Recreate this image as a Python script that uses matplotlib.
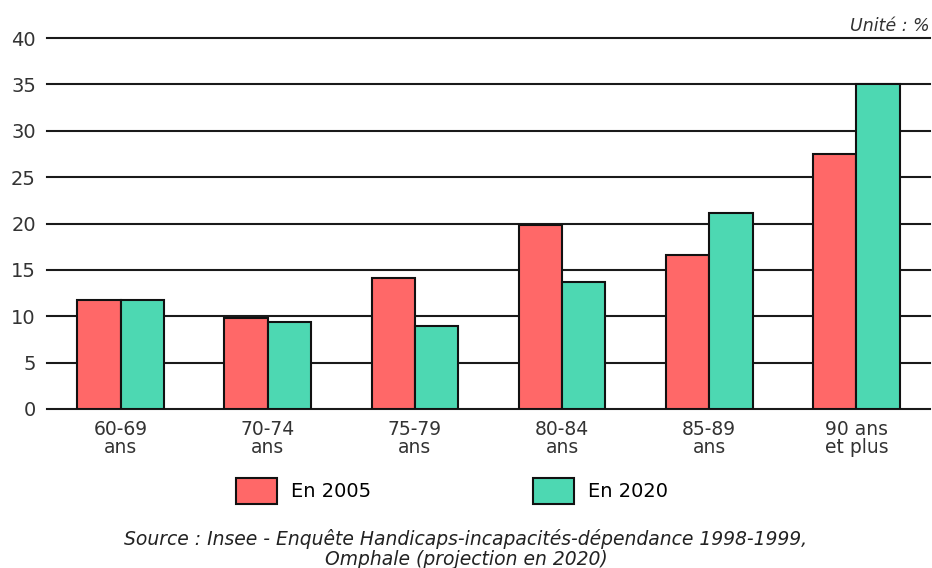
import matplotlib
matplotlib.use("Agg")
import matplotlib.pyplot as plt
import numpy as np

categories = ["60-69\nans", "70-74\nans", "75-79\nans", "80-84\nans", "85-89\nans", "90 ans\net plus"]
series_names = ["En 2005", "En 2020"]
values_2005 = [11.8, 9.8, 14.1, 19.8, 16.6, 27.5]
values_2020 = [11.8, 9.4, 8.9, 13.7, 21.1, 35.0]
yticks = [0, 5, 10, 15, 20, 25, 30, 35, 40]
colors = ["#FF6868", "#4DD8B2"]

plt.rcParams['font.family'] = ['DejaVu Sans']

fig = plt.figure(figsize=(9.32, 5.68), dpi=100)
ax = fig.add_axes([47/932, 1-409/568, 883/932, 371/568])

x = np.arange(len(categories))
w = 0.295
ax.bar(x - w/2, values_2005, w, color=colors[0], edgecolor="#111111", linewidth=1.5, zorder=3, label=series_names[0])
ax.bar(x + w/2, values_2020, w, color=colors[1], edgecolor="#111111", linewidth=1.5, zorder=3, label=series_names[1])

ax.set_xlim(-0.5, len(categories) - 0.5)
ax.set_ylim(0, 40)
ax.set_yticks(yticks)
ax.set_yticklabels([str(t) for t in yticks], fontsize=14, color="#333333")
ax.yaxis.grid(True, color="#1a1a1a", linewidth=1.5, zorder=0)
for gl in ax.get_ygridlines():
    gl.set_clip_on(False)
ax.set_axisbelow(True)
for s in ax.spines.values():
    s.set_visible(False)
ax.tick_params(axis='y', length=0, pad=8)
ax.tick_params(axis='x', length=0, pad=8)
ax.set_xticks(x)
ax.set_xticklabels(categories, fontsize=13.5, color="#333333", linespacing=0.95)

fig.text(930/932, 1-26/568, "Unité : %", ha="right", va="center", fontsize=12.5, style="italic", color="#333333")

fig.legend(loc="center", bbox_to_anchor=(452/932, 1-491/568), ncol=2, frameon=False,
           fontsize=14, handlelength=2.1, handleheight=1.75, columnspacing=8.3, handletextpad=0.75,
           borderpad=0, borderaxespad=0)

fig.text(466/932, 1-549/568, "Source : Insee - Enquête Handicaps-incapacités-dépendance 1998-1999,\nOmphale (projection en 2020)",
         ha="center", va="center", fontsize=13.5, style="italic", color="#222222", linespacing=1.1)

fig.savefig("out.png", dpi=100)
